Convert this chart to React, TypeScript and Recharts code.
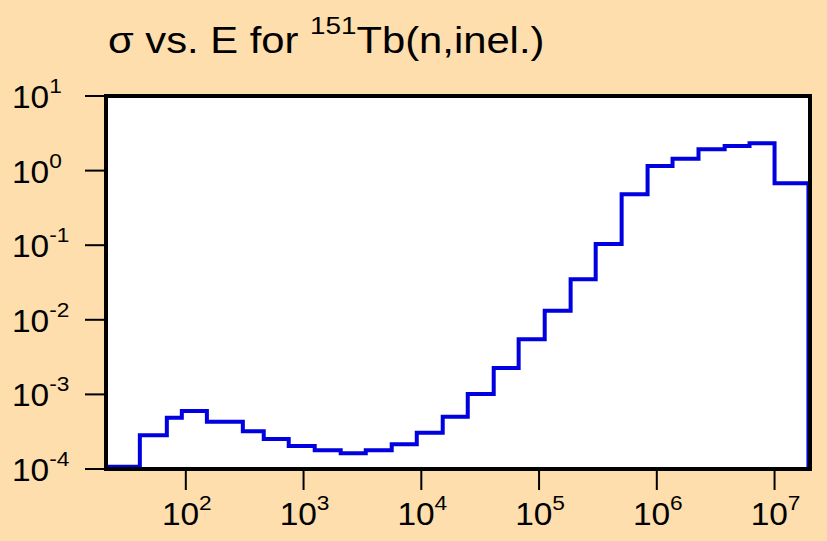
import React from 'react'
import {
  LineChart,
  Line,
  XAxis,
  YAxis,
  CartesianGrid,
} from 'recharts'

// group boundaries (eV) and cross sections (b) for 151Tb(n,inel.)
const energyEdges = [
  21, 40.7, 69, 92.5, 151, 305, 459, 748, 1244, 2068, 3376, 5606, 9150, 15200,
  24800, 41200, 67100, 111700, 185400, 302600, 502700, 835000, 1.36e6, 2.26e6,
  3.77e6, 6.13e6, 1e7, 1.94e7,
]
const sigmaValues = [
  1.07e-4, 2.83e-4, 4.87e-4, 5.99e-4, 4.3e-4, 3.2e-4, 2.52e-4, 2.03e-4, 1.78e-4,
  1.62e-4, 1.78e-4, 2.14e-4, 3.07e-4, 5.02e-4, 1.01e-3, 2.26e-3, 5.47e-3,
  1.32e-2, 3.49e-2, 0.104, 0.481, 1.15, 1.44, 1.93, 2.14, 2.32, 0.676,
]
const sigmaFloor = 1e-4

const xTicks = [1e2, 1e3, 1e4, 1e5, 1e6, 1e7]
const yTicks = [1e-4, 1e-3, 1e-2, 1e-1, 1e0, 1e1]
const xDomain = [21, 2e7]
const yDomain = [1e-4, 10]

const data = energyEdges.map((e, i) => ({
  e,
  sigma: i < sigmaValues.length ? sigmaValues[i] : sigmaFloor,
}))

const FONT = '"Liberation Sans", Arial, sans-serif'
const BG = '#FDDEAC'

const exponent = (v: number) => String(Math.round(Math.log10(v)))

// the original lettering is a bit wider than Arial, so stretch it sideways
function PowerLabel({ tx, ty, anchor, value }: any) {
  return (
    <g transform={`translate(${tx},${ty}) scale(1.08,1)`}>
      <text x={0} y={0} textAnchor={anchor} fontFamily={FONT} fontSize={31} fill="#000">
        <tspan>10</tspan>
        <tspan dy={-15} fontSize={21}>{exponent(value)}</tspan>
      </text>
    </g>
  )
}

function XTick({ x, y, payload }: any) {
  return <PowerLabel tx={x + 1} ty={y + 33} anchor="middle" value={payload.value} />
}

function YTick({ y, payload }: any) {
  return <PowerLabel tx={12} ty={y + 12} anchor="start" value={payload.value} />
}

export default function App() {
  const axisLine = { stroke: '#000', strokeWidth: 4, strokeLinecap: 'square' as const }
  const tickLine = { stroke: '#000', strokeWidth: 2 }
  return (
    <div style={{ position: 'relative', width: 827, height: 541, background: BG }}>
      <style>{'body{margin:0}'}</style>
      <LineChart
        width={827}
        height={541}
        data={data}
        margin={{ top: 0, right: 0, bottom: 0, left: 0 }}
      >
        <CartesianGrid horizontal={false} vertical={false} fill="#fff" />
        <XAxis
          dataKey="e"
          type="number"
          scale="log"
          domain={xDomain}
          allowDataOverflow
          ticks={xTicks}
          height={72}
          tickSize={21}
          axisLine={axisLine}
          tickLine={tickLine}
          tick={<XTick />}
        />
        <XAxis
          xAxisId="top"
          orientation="top"
          dataKey="e"
          type="number"
          scale="log"
          domain={xDomain}
          allowDataOverflow
          ticks={xTicks}
          height={96}
          tickSize={21}
          axisLine={axisLine}
          tickLine={tickLine}
          tick={false}
        />
        <YAxis
          type="number"
          scale="log"
          domain={yDomain}
          allowDataOverflow
          ticks={yTicks}
          width={106}
          tickSize={21}
          axisLine={axisLine}
          tickLine={tickLine}
          tick={<YTick />}
        />
        <YAxis
          yAxisId="right"
          orientation="right"
          type="number"
          scale="log"
          domain={yDomain}
          allowDataOverflow
          ticks={yTicks}
          width={17}
          tickSize={21}
          axisLine={axisLine}
          tickLine={tickLine}
          tick={false}
        />
        <Line
          type="stepAfter"
          dataKey="sigma"
          stroke="#0000E0"
          strokeWidth={4}
          dot={false}
          isAnimationActive={false}
        />
      </LineChart>
      <svg
        width={827}
        height={90}
        style={{ position: 'absolute', left: 0, top: 0, pointerEvents: 'none' }}
      >
        <g transform="translate(108,53) scale(1.16,1)">
          <text x={0} y={0} fontFamily={FONT} fontSize={36} fill="#000">
            <tspan>σ vs. E for </tspan>
            <tspan dy={-19} fontSize={24}>151</tspan>
            <tspan dy={19}>Tb(n,inel.)</tspan>
          </text>
        </g>
      </svg>
    </div>
  )
}
